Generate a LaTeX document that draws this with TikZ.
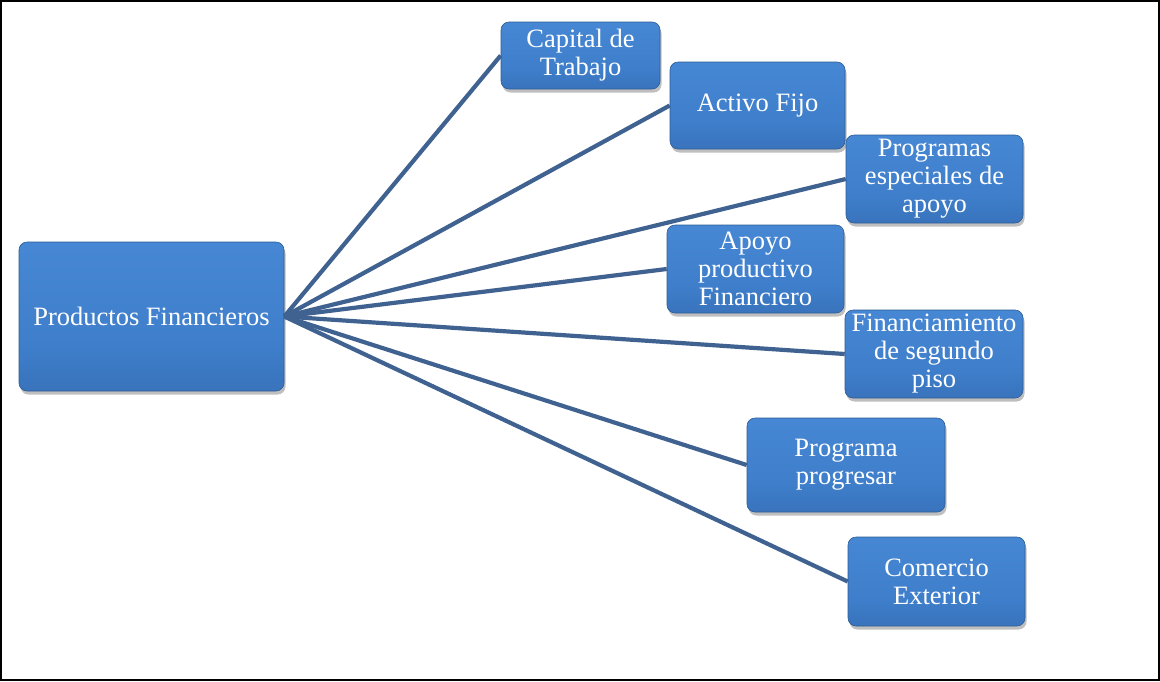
\documentclass[tikz,border=0pt]{standalone}
\usepackage{fontspec}
\setmainfont{Liberation Serif}
\usetikzlibrary{shadows}
\definecolor{lineblue}{HTML}{3F6291}
\definecolor{boxtop}{HTML}{4A8BD8}
\definecolor{boxmid}{HTML}{3E7ECA}
\definecolor{boxbot}{HTML}{3264A9}
\definecolor{boxedge}{HTML}{2F5C96}
\pgfdeclareverticalshading{boxshade}{100bp}{%
  color(0bp)=(boxedge); color(4bp)=(boxbot); color(40bp)=(boxmid);
  color(90bp)=(boxtop); color(96bp)=(boxtop!70!white); color(100bp)=(boxedge)}
\tikzset{
  box/.style={rectangle, rounded corners=8pt, draw=boxedge, line width=0.6pt,
    shading=boxshade, text=white, align=center, inner sep=0pt,
    font=\fontsize{26.5}{28}\selectfont,
    drop shadow={shadow xshift=1.5pt, shadow yshift=-3.5pt, opacity=0.45, fill=black!55}},
  conn/.style={draw=lineblue, line width=4.2pt}
}
\begin{document}
\begin{tikzpicture}[x=1pt,y=-1pt]
\useasboundingbox (0,0) rectangle (1160,681);
\fill[white] (0,0) rectangle (1160,681);
\draw[black, line width=2pt] (1,1) rectangle (1159,680);

\node[box, minimum width=265pt, minimum height=149pt] (p) at (151.5,316.5) {Productos Financieros};
\node[box, minimum width=159pt, minimum height=67pt] (cap) at (580.5,55.5) {Capital de\\Trabajo};
\node[box, minimum width=175pt, minimum height=87pt] (act) at (757.5,105.5) {Activo Fijo};
\node[box, minimum width=177pt, minimum height=88pt] (prog) at (934.5,179) {Programas\\especiales de\\apoyo};
\node[box, minimum width=177pt, minimum height=88pt] (apo) at (755.5,269) {Apoyo\\productivo\\Financiero};
\node[box, minimum width=178pt, minimum height=88pt] (fin) at (934,354) {Financiamiento\\de segundo\\piso};
\node[box, minimum width=198pt, minimum height=94pt] (pp) at (846,465) {Programa\\progresar};
\node[box, minimum width=177pt, minimum height=89pt] (com) at (936.5,581.5) {Comercio\\Exterior};

\draw[conn] (p.east) -- (cap.west);
\draw[conn] (p.east) -- (act.west);
\draw[conn] (p.east) -- (prog.west);
\draw[conn] (p.east) -- (apo.west);
\draw[conn] (p.east) -- (fin.west);
\draw[conn] (p.east) -- (pp.west);
\draw[conn] (p.east) -- (com.west);
\end{tikzpicture}
\end{document}
